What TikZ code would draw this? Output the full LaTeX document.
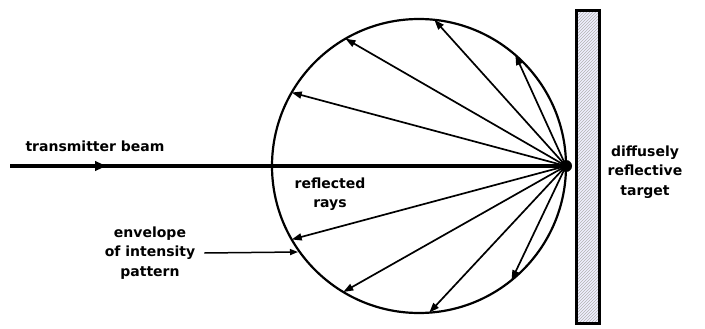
\documentclass[tikz,border=0pt]{standalone}
\usepackage{fontspec}
\setmainfont{DejaVu Sans}
\usetikzlibrary{arrows.meta,positioning,calc,patterns}

\begin{document}
\begin{tikzpicture}[
			x=1pt,y=-1pt,
			txt/.style={
				font=\bfseries\fontsize{14}{19.5}\selectfont,
				align=center,
				inner sep=0pt
			},
			beam/.style={line width=3.2pt},
			ray/.style={line width=1.7pt,-{Triangle[length=10pt,width=7pt]}},
			arrow/.style={line width=1.5pt,-{Triangle[length=8pt,width=6pt]}}
			]
			\useasboundingbox (0,0) rectangle (705,329);
			
			% target and envelope
			\node[draw,line width=2.6pt,minimum width=23pt,minimum height=313pt,inner sep=0pt,
				preaction={fill=blue!6},pattern=north east lines,pattern color=gray!60] (target) at (588,167) {};
			\coordinate (c) at (419,166);
			\draw[line width=2.2pt] (c) circle (147);
			
			\coordinate (src) at (10,166);
			\coordinate (mid) at (106,166);
			\coordinate (spot) at (566,166);
			
			\node[txt] (tb) at (95,146) {transmitter beam};
			\node[txt] (rr) at (330,194) {reflected\\rays};
			\node[txt] (env) at (150,253) {envelope\\of intensity\\pattern};
			\node[txt] (tgt) at (645,172) {diffusely\\reflective\\target};
			\coordinate (envtip) at (298,252);
			
			\draw[beam] (src) -- (spot);
			\draw[line width=1pt,-{Triangle[length=11pt,width=10pt]}] (src) -- (mid);
			\fill (spot) circle (6);
			
			\foreach \a in {150,121,86,51,-150,-120,-84,-49}
			\draw[ray] (spot) -- ([shift={(\a:147)}]c);
			
			\draw[arrow] (env.east) ++(9,0) -- (envtip);
			
		\end{tikzpicture}
\end{document}
